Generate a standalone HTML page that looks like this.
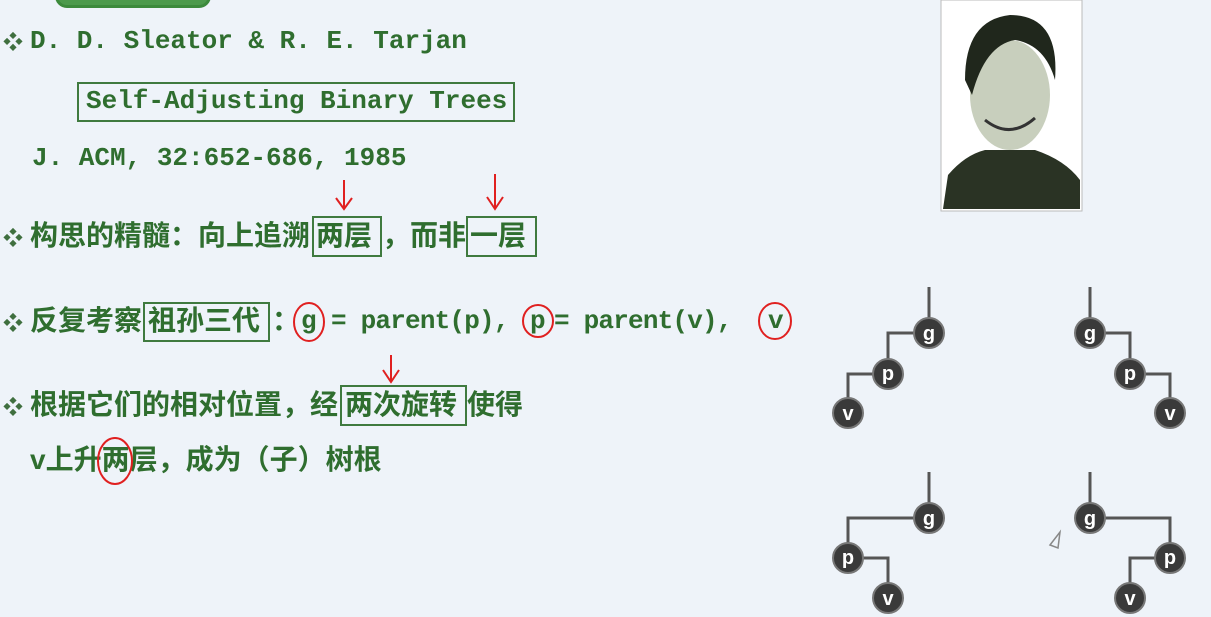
<!DOCTYPE html>
<html><head><meta charset="utf-8"><style>
body{margin:0;width:1211px;height:617px;background:#eef3f9;overflow:hidden;position:relative;font-family:"Liberation Sans","Noto Sans CJK SC",sans-serif}
.t{position:absolute;color:#2f6e2f;font-weight:bold;white-space:nowrap;line-height:1}
.m{font-family:"Liberation Mono","Noto Sans CJK SC",monospace;font-size:26px}
.c{font-size:28px}
.bx{position:absolute;border:2px solid #3f7a3f}
.d{position:absolute;color:#3f6f3f;font-size:20px;font-weight:bold}
</style></head><body>
<div style="position:absolute;left:55px;top:-20px;width:150px;height:22px;border:3px solid #3c8a3c;border-radius:12px;background:#4c9a4c"></div>

<div class="d" style="left:3px;top:26px">❖</div>
<div class="t m" style="left:30px;top:28px">D. D. Sleator &amp; R. E. Tarjan</div>
<div class="bx" style="left:77px;top:82px;width:434px;height:36px"></div>
<div class="t m" style="left:86px;top:88px">Self-Adjusting Binary Trees</div>
<div class="t m" style="left:32px;top:145px">J. ACM, 32:652-686, 1985</div>

<div class="d" style="left:3px;top:222px">❖</div>
<div class="t c" style="left:30px;top:222px">构思的精髓：向上追溯</div>
<div class="bx" style="left:312px;top:216px;width:66px;height:37px"></div>
<div class="t c" style="left:316px;top:222px">两层</div>
<div class="t c" style="left:382px;top:222px">，而非</div>
<div class="bx" style="left:466px;top:216px;width:67px;height:37px"></div>
<div class="t c" style="left:470px;top:222px">一层</div>

<div class="d" style="left:3px;top:307px">❖</div>
<div class="t c" style="left:30px;top:307px">反复考察</div>
<div class="bx" style="left:143px;top:302px;width:123px;height:36px"></div>
<div class="t c" style="left:148px;top:307px">祖孙三代</div>
<div class="t c" style="left:272px;top:307px">：</div>
<div class="t m" style="left:301px;top:308px">g</div>
<div class="t m" style="left:331px;top:308px;letter-spacing:-0.8px">= parent(p),</div>
<div class="t m" style="left:530px;top:308px">p</div>
<div class="t m" style="left:554px;top:308px;letter-spacing:-0.8px">= parent(v),</div>
<div class="t m" style="left:768px;top:308px">v</div>

<div class="d" style="left:3px;top:391px">❖</div>
<div class="t c" style="left:30px;top:391px">根据它们的相对位置，经</div>
<div class="bx" style="left:340px;top:385px;width:123px;height:37px"></div>
<div class="t c" style="left:345px;top:391px">两次旋转</div>
<div class="t c" style="left:467px;top:391px">使得</div>
<div class="t c" style="left:30px;top:446px">v上升两层，成为（子）树根</div>

<svg width="1211" height="617" style="position:absolute;left:0;top:0">
<g stroke="#e02020" stroke-width="2" fill="none">
<path d="M344 180V208M336 198L344 209L352 198"/>
<path d="M495 174V208M487 197L495 209L503 197"/>
<path d="M391 355V381M383 370L391 382L399 370"/>
<ellipse cx="309" cy="322" rx="15" ry="19"/>
<ellipse cx="538" cy="321" rx="15" ry="16"/>
<ellipse cx="775" cy="321" rx="16" ry="18"/>
<ellipse cx="115" cy="461" rx="17" ry="23"/>
</g>
<rect x="941" y="0" width="141" height="211" fill="#fff" stroke="#bbb"/>
<path d="M943 209L948 175Q965 155 985 150L1035 150Q1065 160 1080 180L1080 209Z" fill="#2a3324"/>
<ellipse cx="1010" cy="95" rx="40" ry="55" fill="#c8cfbd"/>
<path d="M965 80Q965 20 1010 15Q1060 15 1055 80Q1045 45 1015 40Q985 45 972 95Z" fill="#20271c"/>
<path d="M985 120Q1010 140 1035 118" stroke="#333" stroke-width="3" fill="none"/>
<g stroke="#555" stroke-width="3" fill="none">
<path d="M929 287V333H888V374H848V413"/>
<path d="M1090 287V333H1130V374H1170V413"/>
<path d="M929 472V518H848V558H888V598"/>
<path d="M1090 472V518H1170V558H1130V598"/>
</g>
<g fill="#3a3a3a" stroke="#777" stroke-width="2">
<circle cx="929" cy="333" r="15"/><circle cx="888" cy="374" r="15"/><circle cx="848" cy="413" r="15"/>
<circle cx="1090" cy="333" r="15"/><circle cx="1130" cy="374" r="15"/><circle cx="1170" cy="413" r="15"/>
<circle cx="929" cy="518" r="15"/><circle cx="848" cy="558" r="15"/><circle cx="888" cy="598" r="15"/>
<circle cx="1090" cy="518" r="15"/><circle cx="1170" cy="558" r="15"/><circle cx="1130" cy="598" r="15"/>
</g>
<g fill="#fff" font-family="Liberation Sans" font-weight="bold" font-size="20" text-anchor="middle">
<text x="929" y="340">g</text><text x="888" y="380">p</text><text x="848" y="420">v</text>
<text x="1090" y="340">g</text><text x="1130" y="380">p</text><text x="1170" y="420">v</text>
<text x="929" y="525">g</text><text x="848" y="564">p</text><text x="888" y="605">v</text>
<text x="1090" y="525">g</text><text x="1170" y="564">p</text><text x="1130" y="605">v</text>
</g>
<path d="M1050 545L1060 532L1058 548Z" fill="none" stroke="#888" stroke-width="1.5"/>
</svg>
</body></html>
